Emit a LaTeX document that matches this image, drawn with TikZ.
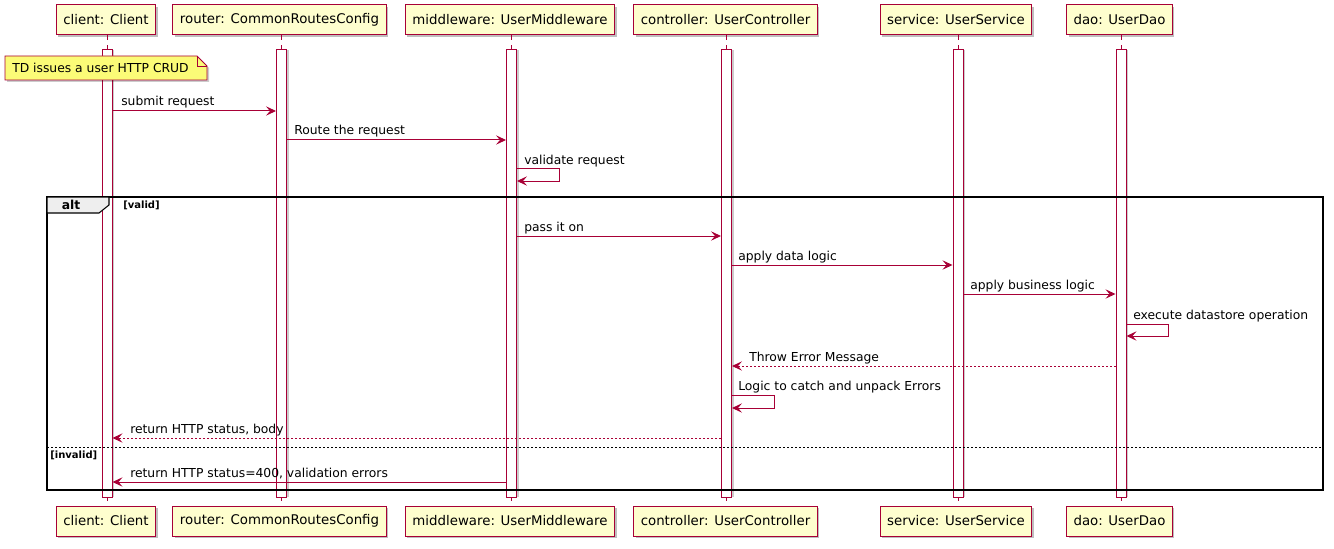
\documentclass[tikz,border=0pt]{standalone}
\usepackage{fontspec}
\setmainfont{DejaVu Sans}
\usetikzlibrary{arrows.meta,shadows}
\definecolor{umlRed}{HTML}{A80036}
\definecolor{umlBox}{HTML}{FEFECE}
\definecolor{umlNote}{HTML}{FBFB77}
\definecolor{umlTab}{HTML}{EEEEEE}

\begin{document}
\begin{tikzpicture}[x=0.75pt, y=-0.75pt,
    partStyle/.style={rectangle, draw=umlRed, fill=umlBox, line width=0.75pt, minimum height=22.5pt, inner xsep=5.25pt, font=\fontsize{10}{12}\selectfont, drop shadow={shadow xshift=1.5pt, shadow yshift=-1.5pt, fill=black, opacity=0.25}},
    barStyle/.style={rectangle, draw=umlRed, fill=white, line width=0.75pt, minimum width=7.5pt, minimum height=335.25pt, inner sep=0pt, drop shadow={shadow xshift=1.5pt, shadow yshift=0pt, fill=black, opacity=0.2}},
    lifeStyle/.style={umlRed, line width=0.75pt, dash pattern=on 3.75pt off 3.75pt},
    msgStyle/.style={umlRed, line width=0.75pt, -{Stealth[length=7.5pt, width=7pt, inset=3pt]}},
    replyStyle/.style={msgStyle, dash pattern=on 1.5pt off 1.5pt},
    labelStyle/.style={anchor=base west, inner sep=0pt, font=\fontsize{9.25}{11}\selectfont},
    guardStyle/.style={anchor=west, inner sep=0pt, font=\fontsize{7.5}{9}\selectfont\bfseries}]
    \useasboundingbox (0,0) rectangle (1334,549);

    % participants
    \node[partStyle] (client)     at ( 106, 20) {client: Client};
    \node[partStyle] (router)     at ( 279.5, 20) {router: CommonRoutesConfig};
    \node[partStyle] (middleware) at ( 510, 20) {middleware: UserMiddleware};
    \node[partStyle] (controller) at ( 725.5, 20) {controller: UserController};
    \node[partStyle] (service)    at ( 956, 20) {service: UserService};
    \node[partStyle] (dao)        at (1119.5, 20) {dao: UserDao};

    \node[partStyle] (clientBot)     at ( 106, 521) {client: Client};
    \node[partStyle] (routerBot)     at ( 279.5, 521) {router: CommonRoutesConfig};
    \node[partStyle] (middlewareBot) at ( 510, 521) {middleware: UserMiddleware};
    \node[partStyle] (controllerBot) at ( 725.5, 521) {controller: UserController};
    \node[partStyle] (serviceBot)    at ( 956, 521) {service: UserService};
    \node[partStyle] (daoBot)        at (1119.5, 521) {dao: UserDao};

    \draw[lifeStyle] (client.south -| 107,0) -- (clientBot.north -| 107,0);
    \draw[lifeStyle] (router.south -| 281.5,0) -- (routerBot.north -| 281.5,0);
    \draw[lifeStyle] (middleware.south -| 511.5,0) -- (middlewareBot.north -| 511.5,0);
    \draw[lifeStyle] (controller.south -| 726.5,0) -- (controllerBot.north -| 726.5,0);
    \draw[lifeStyle] (service.south -| 958,0) -- (serviceBot.north -| 958,0);
    \draw[lifeStyle] (dao.south -| 1121,0) -- (daoBot.north -| 1121,0);

    % activations
    \node[barStyle] (clientBar)     at ( 107, 273.5) {};
    \node[barStyle] (routerBar)     at ( 281.5, 273.5) {};
    \node[barStyle] (middlewareBar) at ( 511.5, 273.5) {};
    \node[barStyle] (controllerBar) at ( 726.5, 273.5) {};
    \node[barStyle] (serviceBar)    at ( 958, 273.5) {};
    \node[barStyle] (daoBar)        at (1121, 273.5) {};

    % note
    \fill[black, opacity=0.2] (7,58) -- (199,58) -- (209,68) -- (209,82) -- (7,82) -- cycle;
    \draw[umlRed, fill=umlNote, line width=0.6pt] (5,56) -- (197,56) -- (207,66) -- (207,80) -- (5,80) -- cycle;
    \draw[umlRed, line width=0.6pt] (197,56) -- (197,66) -- (207,66);
    \node[labelStyle] (tdNote) at (12,73) {TD issues a user HTTP CRUD};

    % messages before alt
    \draw[msgStyle] (clientBar.east |- 0,111) -- (routerBar.west |- 0,111);
    \node[labelStyle] (msgSubmit) at (121,106) {submit request};
    \draw[msgStyle] (routerBar.east |- 0,140) -- (middlewareBar.west |- 0,140);
    \node[labelStyle] (msgRoute) at (294,135) {Route the request};
    \draw[msgStyle] (middlewareBar.east |- 0,169) -- (559,169) -- (559,181) -- (middlewareBar.east |- 0,181);
    \node[labelStyle] (msgValidate) at (524,164.5) {validate request};

    % alt frame
    \draw[line width=1.1pt] (47,197) rectangle (1323,490);
    \draw[fill=umlTab, line width=0.8pt] (47,197) -- (109,197) -- (109,205) -- (99,213) -- (47,213) -- cycle;
    \node[font=\fontsize{9.25}{11}\selectfont\bfseries, inner sep=0pt] (altTab) at (71,205) {alt};
    \node[guardStyle] (validGuard) at (123,205.5) {[valid]};
    \draw[line width=0.6pt, dash pattern=on 1.5pt off 1.5pt] (47,447) -- (1323,447);
    \node[guardStyle] (invalidGuard) at (50,455.5) {[invalid]};

    % valid branch
    \draw[msgStyle] (middlewareBar.east |- 0,236) -- (controllerBar.west |- 0,236);
    \node[labelStyle] (msgPass) at (524,231) {pass it on};
    \draw[msgStyle] (controllerBar.east |- 0,265) -- (serviceBar.west |- 0,265);
    \node[labelStyle] (msgData) at (738,260) {apply data logic};
    \draw[msgStyle] (serviceBar.east |- 0,294) -- (daoBar.west |- 0,294);
    \node[labelStyle] (msgBusiness) at (970,289) {apply business logic};
    \draw[msgStyle] (daoBar.east |- 0,324) -- (1168,324) -- (1168,336) -- (daoBar.east |- 0,336);
    \node[labelStyle] (msgExecute) at (1133,319.5) {execute datastore operation};
    \draw[replyStyle] (daoBar.west |- 0,366) -- (controllerBar.east |- 0,366);
    \node[labelStyle] (msgThrow) at (749,361) {Throw Error Message};
    \draw[msgStyle] (controllerBar.east |- 0,395) -- (774,395) -- (774,408) -- (controllerBar.east |- 0,408);
    \node[labelStyle] (msgCatch) at (738,390.5) {Logic to catch and unpack Errors};
    \draw[replyStyle] (controllerBar.west |- 0,438) -- (clientBar.east |- 0,438);
    \node[labelStyle] (msgReturn) at (130,433) {return HTTP status, body};

    % invalid branch
    \draw[msgStyle] (middlewareBar.west |- 0,482) -- (clientBar.east |- 0,482);
    \node[labelStyle] (msgInvalid) at (130,477) {return HTTP status=400, validation errors};
\end{tikzpicture}
\end{document}
